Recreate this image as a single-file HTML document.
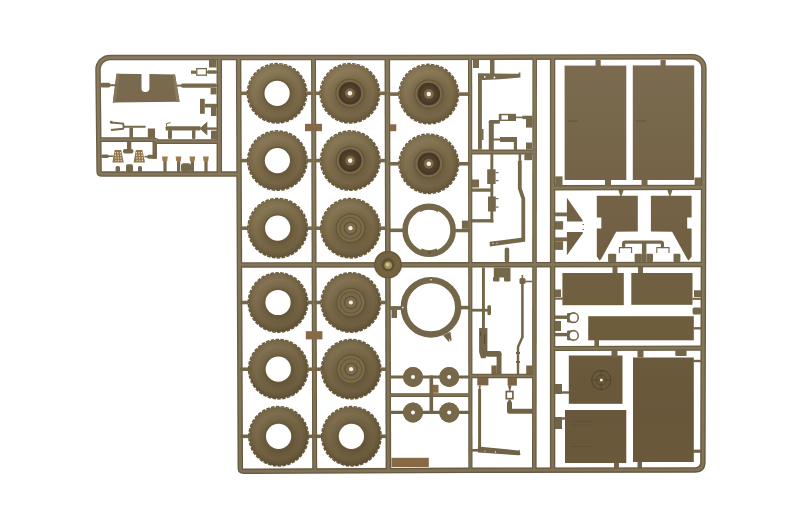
<!DOCTYPE html>
<html><head><meta charset="utf-8"><title>sprue</title>
<style>
html,body{margin:0;padding:0;background:#ffffff;}
body{width:800px;height:530px;overflow:hidden;font-family:"Liberation Sans",sans-serif;}
svg{display:block;}
</style></head><body>
<svg width="800" height="530" viewBox="0 0 800 530">
<rect width="800" height="530" fill="#ffffff"/>
<defs><filter id="soft" x="0" y="0" width="800" height="530" filterUnits="userSpaceOnUse"><feGaussianBlur stdDeviation="0.42"/></filter></defs>
<g filter="url(#soft)">
<defs>
<linearGradient id="rg" gradientUnits="userSpaceOnUse" x1="0" y1="55" x2="0" y2="473">
<stop offset="0" stop-color="#776a4d"/><stop offset="0.5" stop-color="#74674a"/><stop offset="1" stop-color="#706246"/>
</linearGradient>
<linearGradient id="rd" gradientUnits="userSpaceOnUse" x1="0" y1="55" x2="0" y2="473">
<stop offset="0" stop-color="#6d6045"/><stop offset="1" stop-color="#665a3f"/>
</linearGradient>
<linearGradient id="rh" gradientUnits="userSpaceOnUse" x1="0" y1="55" x2="0" y2="473">
<stop offset="0" stop-color="#87795c"/><stop offset="1" stop-color="#807256"/>
</linearGradient>
<linearGradient id="pg" gradientUnits="userSpaceOnUse" x1="0" y1="60" x2="0" y2="470">
<stop offset="0" stop-color="#7b6b51"/><stop offset="0.3" stop-color="#746347"/><stop offset="0.56" stop-color="#705f3f"/><stop offset="0.86" stop-color="#69573a"/><stop offset="1" stop-color="#6c5a3b"/>
</linearGradient>
</defs>
<path d="M239 174 L102 174 Q99.1 174 99.1 171.2 L98.0 69.5 A12 12 0 0 1 110 57.5 L400 57.5 L692.4 56.7 A11.5 11.5 0 0 1 703.9 68.2 L702.9 462 Q702.9 469.9 695 469.9 L470 470.3 L243.5 471.3 Q240.35 471.3 240.3 468.3 L238.6 57.5" fill="none" stroke="url(#rd)" stroke-width="5.5" stroke-linejoin="round" />
<path d="M219.3 57.5 L219.3 174" fill="none" stroke="url(#rd)" stroke-width="5.5" stroke-linejoin="round" />
<path d="M98.4 139.6 L154 139.6 L158 141.6 L219.3 141.6" fill="none" stroke="url(#rd)" stroke-width="4.9" stroke-linejoin="round" />
<path d="M313.5 57.5 L314.7 470.5" fill="none" stroke="url(#rd)" stroke-width="5.0" stroke-linejoin="round" />
<path d="M387.3 57.5 L388.4 470.5" fill="none" stroke="url(#rd)" stroke-width="5.6" stroke-linejoin="round" />
<path d="M470.1 57.5 L470.4 470.5" fill="none" stroke="url(#rd)" stroke-width="4.2" stroke-linejoin="round" />
<path d="M534.7 57.5 L534.3 470.5" fill="none" stroke="url(#rd)" stroke-width="4.6" stroke-linejoin="round" />
<path d="M552.6 57.5 L552.6 470.5" fill="none" stroke="url(#rd)" stroke-width="5.4" stroke-linejoin="round" />
<path d="M239 264.9 L470 264.8 L703.5 264.4" fill="none" stroke="url(#rd)" stroke-width="5.5" stroke-linejoin="round" />
<path d="M470 152 L534 152" fill="none" stroke="url(#rd)" stroke-width="5" stroke-linejoin="round" />
<path d="M470 375.9 L534 375.9" fill="none" stroke="url(#rd)" stroke-width="4.5" stroke-linejoin="round" />
<path d="M388 395.1 L470 395.1" fill="none" stroke="url(#rd)" stroke-width="3.6" stroke-linejoin="round" />
<path d="M552.8 187.8 L704 187.4" fill="none" stroke="url(#rd)" stroke-width="5.4" stroke-linejoin="round" />
<path d="M552.8 348.5 L703 348.1" fill="none" stroke="url(#rd)" stroke-width="5.2" stroke-linejoin="round" />
<path d="M239 174 L102 174 Q99.1 174 99.1 171.2 L98.0 69.5 A12 12 0 0 1 110 57.5 L400 57.5 L692.4 56.7 A11.5 11.5 0 0 1 703.9 68.2 L702.9 462 Q702.9 469.9 695 469.9 L470 470.3 L243.5 471.3 Q240.35 471.3 240.3 468.3 L238.6 57.5" fill="none" stroke="url(#rh)" stroke-width="2.75" stroke-linejoin="round" />
<path d="M219.3 57.5 L219.3 174" fill="none" stroke="url(#rh)" stroke-width="2.75" stroke-linejoin="round" />
<path d="M98.4 139.6 L154 139.6 L158 141.6 L219.3 141.6" fill="none" stroke="url(#rh)" stroke-width="2.45" stroke-linejoin="round" />
<path d="M313.5 57.5 L314.7 470.5" fill="none" stroke="url(#rh)" stroke-width="2.50" stroke-linejoin="round" />
<path d="M387.3 57.5 L388.4 470.5" fill="none" stroke="url(#rh)" stroke-width="2.80" stroke-linejoin="round" />
<path d="M470.1 57.5 L470.4 470.5" fill="none" stroke="url(#rh)" stroke-width="2.10" stroke-linejoin="round" />
<path d="M534.7 57.5 L534.3 470.5" fill="none" stroke="url(#rh)" stroke-width="2.30" stroke-linejoin="round" />
<path d="M552.6 57.5 L552.6 470.5" fill="none" stroke="url(#rh)" stroke-width="2.70" stroke-linejoin="round" />
<path d="M239 264.9 L470 264.8 L703.5 264.4" fill="none" stroke="url(#rh)" stroke-width="2.75" stroke-linejoin="round" />
<path d="M470 152 L534 152" fill="none" stroke="url(#rh)" stroke-width="2.50" stroke-linejoin="round" />
<path d="M470 375.9 L534 375.9" fill="none" stroke="url(#rh)" stroke-width="2.25" stroke-linejoin="round" />
<path d="M388 395.1 L470 395.1" fill="none" stroke="url(#rh)" stroke-width="1.80" stroke-linejoin="round" />
<path d="M552.8 187.8 L704 187.4" fill="none" stroke="url(#rh)" stroke-width="2.70" stroke-linejoin="round" />
<path d="M552.8 348.5 L703 348.1" fill="none" stroke="url(#rh)" stroke-width="2.60" stroke-linejoin="round" />
<defs>
<linearGradient id="tl" x1="0.25" y1="0" x2="0.75" y2="1">
<stop offset="0" stop-color="#fff3d0" stop-opacity="0.13"/><stop offset="0.5" stop-color="#fff3d0" stop-opacity="0"/><stop offset="0.5" stop-color="#1a1000" stop-opacity="0"/><stop offset="1" stop-color="#1a1000" stop-opacity="0.13"/>
</linearGradient>
<radialGradient id="tg" cx="50%" cy="50%" r="50%">
<stop offset="0.40" stop-color="#62543a"/>
<stop offset="0.48" stop-color="#716040"/>
<stop offset="0.60" stop-color="#7a6949"/>
<stop offset="0.78" stop-color="#806f4e"/>
<stop offset="0.92" stop-color="#766545"/>
<stop offset="1" stop-color="#68593c"/>
</radialGradient>
</defs>
<line x1="240.00" y1="93.30" x2="247.70" y2="93.30" stroke="url(#rg)" stroke-width="3.6" stroke-linecap="butt"/>
<line x1="306.50" y1="93.30" x2="313.00" y2="93.30" stroke="url(#rg)" stroke-width="3.6" stroke-linecap="butt"/>
<circle cx="277.1013119533528" cy="93.3" r="29.75" fill="none" stroke="#6c5d3f" stroke-width="1.5" stroke-dasharray="3.5 1.4"/>
<circle cx="277.10" cy="93.30" r="29.40" fill="url(#tg)" />
<circle cx="277.10" cy="93.30" r="29.40" fill="url(#tl)" />
<circle cx="277.10" cy="93.30" r="14.00" fill="#6a5a3c" />
<circle cx="277.10" cy="93.30" r="12.60" fill="#ffffff" />
<line x1="240.00" y1="160.60" x2="248.00" y2="160.60" stroke="url(#rg)" stroke-width="3.6" stroke-linecap="butt"/>
<line x1="306.80" y1="160.60" x2="313.00" y2="160.60" stroke="url(#rg)" stroke-width="3.6" stroke-linecap="butt"/>
<circle cx="277.39562682215745" cy="160.6" r="29.75" fill="none" stroke="#6c5d3f" stroke-width="1.5" stroke-dasharray="3.5 1.4"/>
<circle cx="277.40" cy="160.60" r="29.40" fill="url(#tg)" />
<circle cx="277.40" cy="160.60" r="29.40" fill="url(#tl)" />
<circle cx="277.40" cy="160.60" r="29.80" fill="#2a1e08" opacity="0.026"/>
<circle cx="277.40" cy="160.60" r="14.00" fill="#6a5a3c" />
<circle cx="277.40" cy="160.60" r="12.60" fill="#ffffff" />
<line x1="240.00" y1="228.20" x2="248.29" y2="228.20" stroke="url(#rg)" stroke-width="3.6" stroke-linecap="butt"/>
<line x1="307.09" y1="228.20" x2="313.00" y2="228.20" stroke="url(#rg)" stroke-width="3.6" stroke-linecap="butt"/>
<circle cx="277.6912536443149" cy="228.2" r="29.75" fill="none" stroke="#6c5d3f" stroke-width="1.5" stroke-dasharray="3.5 1.4"/>
<circle cx="277.69" cy="228.20" r="29.40" fill="url(#tg)" />
<circle cx="277.69" cy="228.20" r="29.40" fill="url(#tl)" />
<circle cx="277.69" cy="228.20" r="29.80" fill="#2a1e08" opacity="0.051"/>
<circle cx="277.69" cy="228.20" r="14.00" fill="#6a5a3c" />
<circle cx="277.69" cy="228.20" r="12.60" fill="#ffffff" />
<line x1="240.00" y1="302.50" x2="248.62" y2="302.50" stroke="url(#rg)" stroke-width="3.6" stroke-linecap="butt"/>
<line x1="307.42" y1="302.50" x2="313.00" y2="302.50" stroke="url(#rg)" stroke-width="3.6" stroke-linecap="butt"/>
<circle cx="278.0161807580175" cy="302.5" r="29.75" fill="none" stroke="#6c5d3f" stroke-width="1.5" stroke-dasharray="3.5 1.4"/>
<circle cx="278.02" cy="302.50" r="29.40" fill="url(#tg)" />
<circle cx="278.02" cy="302.50" r="29.40" fill="url(#tl)" />
<circle cx="278.02" cy="302.50" r="29.80" fill="#2a1e08" opacity="0.079"/>
<circle cx="278.02" cy="302.50" r="14.00" fill="#6a5a3c" />
<circle cx="278.02" cy="302.50" r="12.60" fill="#ffffff" />
<line x1="240.00" y1="369.20" x2="248.91" y2="369.20" stroke="url(#rg)" stroke-width="3.6" stroke-linecap="butt"/>
<line x1="307.71" y1="369.20" x2="313.00" y2="369.20" stroke="url(#rg)" stroke-width="3.6" stroke-linecap="butt"/>
<circle cx="278.3078717201166" cy="369.2" r="29.75" fill="none" stroke="#6c5d3f" stroke-width="1.5" stroke-dasharray="3.5 1.4"/>
<circle cx="278.31" cy="369.20" r="29.40" fill="url(#tg)" />
<circle cx="278.31" cy="369.20" r="29.40" fill="url(#tl)" />
<circle cx="278.31" cy="369.20" r="29.80" fill="#2a1e08" opacity="0.105"/>
<circle cx="278.31" cy="369.20" r="14.00" fill="#6a5a3c" />
<circle cx="278.31" cy="369.20" r="12.60" fill="#ffffff" />
<line x1="240.00" y1="436.30" x2="249.20" y2="436.30" stroke="url(#rg)" stroke-width="3.6" stroke-linecap="butt"/>
<line x1="308.00" y1="436.30" x2="313.00" y2="436.30" stroke="url(#rg)" stroke-width="3.6" stroke-linecap="butt"/>
<circle cx="278.6013119533528" cy="436.3" r="29.75" fill="none" stroke="#6c5d3f" stroke-width="1.5" stroke-dasharray="3.5 1.4"/>
<circle cx="278.60" cy="436.30" r="29.40" fill="url(#tg)" />
<circle cx="278.60" cy="436.30" r="29.40" fill="url(#tl)" />
<circle cx="278.60" cy="436.30" r="29.80" fill="#2a1e08" opacity="0.130"/>
<circle cx="278.60" cy="436.30" r="14.00" fill="#6a5a3c" />
<circle cx="278.60" cy="436.30" r="12.60" fill="#ffffff" />
<line x1="314.00" y1="93.30" x2="320.50" y2="93.30" stroke="url(#rg)" stroke-width="3.6" stroke-linecap="butt"/>
<line x1="379.30" y1="93.30" x2="387.00" y2="93.30" stroke="url(#rg)" stroke-width="3.6" stroke-linecap="butt"/>
<circle cx="349.9013119533528" cy="93.3" r="29.75" fill="none" stroke="#6c5d3f" stroke-width="1.5" stroke-dasharray="3.5 1.4"/>
<circle cx="349.90" cy="93.30" r="29.40" fill="url(#tg)" />
<circle cx="349.90" cy="93.30" r="29.40" fill="url(#tl)" />
<circle cx="349.90" cy="93.30" r="14.60" fill="#655639" />
<circle cx="349.90" cy="93.30" r="13.50" fill="#7a6946" />
<circle cx="349.90" cy="93.30" r="11.30" fill="#47372a" />
<circle cx="349.90" cy="93.30" r="8.60" fill="#523f2b" />
<circle cx="349.90" cy="93.30" r="5.00" fill="#7a6747" />
<circle cx="349.90" cy="93.30" r="2.30" fill="#f4f0e8" />
<line x1="314.00" y1="160.60" x2="320.80" y2="160.60" stroke="url(#rg)" stroke-width="3.6" stroke-linecap="butt"/>
<line x1="379.60" y1="160.60" x2="387.00" y2="160.60" stroke="url(#rg)" stroke-width="3.6" stroke-linecap="butt"/>
<circle cx="350.1956268221574" cy="160.6" r="29.75" fill="none" stroke="#6c5d3f" stroke-width="1.5" stroke-dasharray="3.5 1.4"/>
<circle cx="350.20" cy="160.60" r="29.40" fill="url(#tg)" />
<circle cx="350.20" cy="160.60" r="29.40" fill="url(#tl)" />
<circle cx="350.20" cy="160.60" r="29.80" fill="#2a1e08" opacity="0.026"/>
<circle cx="350.20" cy="160.60" r="14.60" fill="#655639" />
<circle cx="350.20" cy="160.60" r="13.50" fill="#7a6946" />
<circle cx="350.20" cy="160.60" r="11.30" fill="#47372a" />
<circle cx="350.20" cy="160.60" r="8.60" fill="#523f2b" />
<circle cx="350.20" cy="160.60" r="5.00" fill="#7a6747" />
<circle cx="350.20" cy="160.60" r="2.30" fill="#f4f0e8" />
<line x1="314.00" y1="228.20" x2="321.09" y2="228.20" stroke="url(#rg)" stroke-width="3.6" stroke-linecap="butt"/>
<line x1="379.89" y1="228.20" x2="387.00" y2="228.20" stroke="url(#rg)" stroke-width="3.6" stroke-linecap="butt"/>
<circle cx="350.49125364431484" cy="228.2" r="29.75" fill="none" stroke="#6c5d3f" stroke-width="1.5" stroke-dasharray="3.5 1.4"/>
<circle cx="350.49" cy="228.20" r="29.40" fill="url(#tg)" />
<circle cx="350.49" cy="228.20" r="29.40" fill="url(#tl)" />
<circle cx="350.49" cy="228.20" r="29.80" fill="#2a1e08" opacity="0.051"/>
<circle cx="350.49" cy="228.20" r="14.60" fill="#655639" />
<circle cx="350.49" cy="228.20" r="13.50" fill="#7d6c49" />
<circle cx="350.49" cy="228.20" r="11.30" fill="#67583b" />
<circle cx="350.49" cy="228.20" r="10.20" fill="#7a6946" />
<circle cx="350.49" cy="228.20" r="6.80" fill="#625337" />
<circle cx="350.49" cy="228.20" r="5.40" fill="#7e6d4b" />
<circle cx="350.49" cy="228.20" r="2.10" fill="#f4f0e8" />
<line x1="314.00" y1="302.50" x2="321.42" y2="302.50" stroke="url(#rg)" stroke-width="3.6" stroke-linecap="butt"/>
<line x1="380.22" y1="302.50" x2="387.00" y2="302.50" stroke="url(#rg)" stroke-width="3.6" stroke-linecap="butt"/>
<circle cx="350.8161807580175" cy="302.5" r="29.75" fill="none" stroke="#6c5d3f" stroke-width="1.5" stroke-dasharray="3.5 1.4"/>
<circle cx="350.82" cy="302.50" r="29.40" fill="url(#tg)" />
<circle cx="350.82" cy="302.50" r="29.40" fill="url(#tl)" />
<circle cx="350.82" cy="302.50" r="29.80" fill="#2a1e08" opacity="0.079"/>
<circle cx="350.82" cy="302.50" r="14.60" fill="#655639" />
<circle cx="350.82" cy="302.50" r="13.50" fill="#7d6c49" />
<circle cx="350.82" cy="302.50" r="11.30" fill="#67583b" />
<circle cx="350.82" cy="302.50" r="10.20" fill="#7a6946" />
<circle cx="350.82" cy="302.50" r="6.80" fill="#625337" />
<circle cx="350.82" cy="302.50" r="5.40" fill="#7e6d4b" />
<circle cx="350.82" cy="302.50" r="2.10" fill="#f4f0e8" />
<line x1="314.00" y1="369.20" x2="321.71" y2="369.20" stroke="url(#rg)" stroke-width="3.6" stroke-linecap="butt"/>
<line x1="380.51" y1="369.20" x2="387.00" y2="369.20" stroke="url(#rg)" stroke-width="3.6" stroke-linecap="butt"/>
<circle cx="351.1078717201166" cy="369.2" r="29.75" fill="none" stroke="#6c5d3f" stroke-width="1.5" stroke-dasharray="3.5 1.4"/>
<circle cx="351.11" cy="369.20" r="29.40" fill="url(#tg)" />
<circle cx="351.11" cy="369.20" r="29.40" fill="url(#tl)" />
<circle cx="351.11" cy="369.20" r="29.80" fill="#2a1e08" opacity="0.105"/>
<circle cx="351.11" cy="369.20" r="14.60" fill="#655639" />
<circle cx="351.11" cy="369.20" r="13.50" fill="#7d6c49" />
<circle cx="351.11" cy="369.20" r="11.30" fill="#67583b" />
<circle cx="351.11" cy="369.20" r="10.20" fill="#7a6946" />
<circle cx="351.11" cy="369.20" r="6.80" fill="#625337" />
<circle cx="351.11" cy="369.20" r="5.40" fill="#7e6d4b" />
<circle cx="351.11" cy="369.20" r="2.10" fill="#f4f0e8" />
<line x1="314.00" y1="436.30" x2="322.00" y2="436.30" stroke="url(#rg)" stroke-width="3.6" stroke-linecap="butt"/>
<line x1="380.80" y1="436.30" x2="387.00" y2="436.30" stroke="url(#rg)" stroke-width="3.6" stroke-linecap="butt"/>
<circle cx="351.4013119533528" cy="436.3" r="29.75" fill="none" stroke="#6c5d3f" stroke-width="1.5" stroke-dasharray="3.5 1.4"/>
<circle cx="351.40" cy="436.30" r="29.40" fill="url(#tg)" />
<circle cx="351.40" cy="436.30" r="29.40" fill="url(#tl)" />
<circle cx="351.40" cy="436.30" r="29.80" fill="#2a1e08" opacity="0.130"/>
<circle cx="351.40" cy="436.30" r="14.00" fill="#6a5a3c" />
<circle cx="351.40" cy="436.30" r="12.60" fill="#ffffff" />
<line x1="388.00" y1="94.10" x2="399.40" y2="94.10" stroke="url(#rg)" stroke-width="3.6" stroke-linecap="butt"/>
<line x1="458.20" y1="94.10" x2="470.00" y2="94.10" stroke="url(#rg)" stroke-width="3.6" stroke-linecap="butt"/>
<circle cx="428.8" cy="94.1" r="29.75" fill="none" stroke="#6c5d3f" stroke-width="1.5" stroke-dasharray="3.5 1.4"/>
<circle cx="428.80" cy="94.10" r="29.40" fill="url(#tg)" />
<circle cx="428.80" cy="94.10" r="29.40" fill="url(#tl)" />
<circle cx="428.80" cy="94.10" r="14.60" fill="#655639" />
<circle cx="428.80" cy="94.10" r="13.50" fill="#7a6946" />
<circle cx="428.80" cy="94.10" r="11.30" fill="#47372a" />
<circle cx="428.80" cy="94.10" r="8.60" fill="#523f2b" />
<circle cx="428.80" cy="94.10" r="5.00" fill="#7a6747" />
<circle cx="428.80" cy="94.10" r="2.30" fill="#f4f0e8" />
<line x1="388.00" y1="163.80" x2="399.40" y2="163.80" stroke="url(#rg)" stroke-width="3.6" stroke-linecap="butt"/>
<line x1="458.20" y1="163.80" x2="470.00" y2="163.80" stroke="url(#rg)" stroke-width="3.6" stroke-linecap="butt"/>
<circle cx="428.8" cy="163.8" r="29.75" fill="none" stroke="#6c5d3f" stroke-width="1.5" stroke-dasharray="3.5 1.4"/>
<circle cx="428.80" cy="163.80" r="29.40" fill="url(#tg)" />
<circle cx="428.80" cy="163.80" r="29.40" fill="url(#tl)" />
<circle cx="428.80" cy="163.80" r="29.80" fill="#2a1e08" opacity="0.027"/>
<circle cx="428.80" cy="163.80" r="14.60" fill="#655639" />
<circle cx="428.80" cy="163.80" r="13.50" fill="#7a6946" />
<circle cx="428.80" cy="163.80" r="11.30" fill="#47372a" />
<circle cx="428.80" cy="163.80" r="8.60" fill="#523f2b" />
<circle cx="428.80" cy="163.80" r="5.00" fill="#7a6747" />
<circle cx="428.80" cy="163.80" r="2.30" fill="#f4f0e8" />
<rect x="305.00" y="123.80" width="17.00" height="7.40" fill="#876a45"/>
<rect x="305.80" y="331.20" width="16.60" height="8.20" fill="#876a45"/>
<rect x="390.00" y="124.30" width="6.30" height="6.90" fill="#876a45"/>
<line x1="390.00" y1="230.30" x2="403.00" y2="230.30" stroke="url(#rg)" stroke-width="3.6" stroke-linecap="butt"/>
<line x1="455.00" y1="230.60" x2="470.00" y2="230.60" stroke="url(#rg)" stroke-width="3.4" stroke-linecap="butt"/>
<rect x="461.90" y="220.60" width="6.40" height="8.20" fill="url(#rg)"/>
<circle cx="429.1" cy="230.2" r="24" fill="none" stroke="url(#rg)" stroke-width="5.6"/>
<path d="M419.5 210.6 A21.6 21.6 0 0 1 438.6 210.6" fill="none" stroke="url(#rg)" stroke-width="3.2"/>
<path d="M421 250.2 A21.6 21.6 0 0 0 437.2 250.2" fill="none" stroke="url(#rg)" stroke-width="3.4"/>
<circle cx="429.40" cy="252.40" r="1.30" fill="#5f5136" />
<line x1="390.00" y1="308.00" x2="401.00" y2="308.00" stroke="url(#rg)" stroke-width="3.8" stroke-linecap="butt"/>
<line x1="461.00" y1="307.60" x2="470.00" y2="307.60" stroke="url(#rg)" stroke-width="3.6" stroke-linecap="butt"/>
<rect x="391.50" y="309.50" width="5.50" height="8.50" fill="url(#rg)"/>
<circle cx="431" cy="307.3" r="27.2" fill="none" stroke="url(#rg)" stroke-width="6.4"/>
<polygon points="443.10,335.30 450.30,331.70 451.70,340.30 448.60,341.70" fill="url(#rg)" />
<circle cx="449.60" cy="340.00" r="0.70" fill="#fff" />
<circle cx="431.00" cy="279.80" r="0.80" fill="#fff" />
<circle cx="402.90" cy="307.60" r="0.80" fill="#fff" />
<circle cx="388.00" cy="264.70" r="13.90" fill="#69593c" />
<circle cx="388.00" cy="264.70" r="12.40" fill="#73633f" />
<circle cx="388.00" cy="264.70" r="6.60" fill="#5f5035" />
<circle cx="388.20" cy="265.20" r="3.80" fill="#a8935c" />
<circle cx="387.60" cy="264.60" r="1.80" fill="#d6c48e" />
<circle cx="413.00" cy="377.00" r="9.95" fill="#77684a" />
<circle cx="413.00" cy="377.00" r="2.00" fill="#ffffff" />
<circle cx="449.20" cy="377.00" r="9.95" fill="#77684a" />
<circle cx="449.20" cy="377.00" r="2.00" fill="#ffffff" />
<circle cx="413.00" cy="412.50" r="9.95" fill="#77684a" />
<circle cx="413.00" cy="412.50" r="2.00" fill="#ffffff" />
<circle cx="449.20" cy="412.50" r="9.95" fill="#77684a" />
<circle cx="449.20" cy="412.50" r="2.00" fill="#ffffff" />
<line x1="390.00" y1="377.00" x2="470.00" y2="377.00" stroke="url(#rg)" stroke-width="3.2" stroke-linecap="butt"/>
<line x1="390.00" y1="412.40" x2="470.00" y2="412.40" stroke="url(#rg)" stroke-width="3.2" stroke-linecap="butt"/>
<circle cx="413.00" cy="377.00" r="9.95" fill="#77684a" />
<circle cx="413.00" cy="377.00" r="2.00" fill="#ffffff" />
<circle cx="449.20" cy="377.00" r="9.95" fill="#77684a" />
<circle cx="449.20" cy="377.00" r="2.00" fill="#ffffff" />
<circle cx="413.00" cy="412.50" r="9.95" fill="#77684a" />
<circle cx="413.00" cy="412.50" r="2.00" fill="#ffffff" />
<circle cx="449.20" cy="412.50" r="9.95" fill="#77684a" />
<circle cx="449.20" cy="412.50" r="2.00" fill="#ffffff" />
<rect x="429.50" y="375.50" width="3.60" height="38.00" fill="url(#rg)"/>
<rect x="432.80" y="384.80" width="5.70" height="8.00" fill="#876a45"/>
<rect x="391.50" y="457.80" width="37.30" height="9.20" fill="#876a45"/>
<rect x="564.60" y="65.60" width="61.70" height="114.40" fill="url(#pg)"/>
<rect x="632.80" y="65.40" width="61.40" height="114.60" fill="url(#pg)"/>
<rect x="595.50" y="60.00" width="5.20" height="6.00" fill="url(#rg)"/>
<rect x="660.50" y="60.00" width="5.20" height="6.00" fill="url(#rg)"/>
<rect x="605.00" y="180.00" width="6.00" height="6.00" fill="url(#rg)"/>
<rect x="641.50" y="180.00" width="6.00" height="6.00" fill="url(#rg)"/>
<rect x="555.20" y="176.40" width="7.30" height="9.60" fill="url(#rg)"/>
<rect x="694.60" y="177.50" width="6.40" height="8.50" fill="url(#rg)"/>
<polygon points="596.80,195.70 637.80,195.70 637.80,231.50 616.20,231.80 601.00,259.30 599.60,260.50 596.80,256.50 596.80,228.40 601.30,228.40 601.30,217.40 596.80,217.40" fill="url(#pg)" />
<polygon points="650.90,195.70 691.60,195.70 691.60,217.40 687.20,217.40 687.20,228.40 691.60,228.40 691.60,256.50 688.80,260.50 687.40,259.30 672.10,231.80 650.90,231.50" fill="url(#pg)" />
<polygon points="618.30,190.00 623.60,190.00 621.60,196.00 620.30,196.00" fill="url(#rg)" />
<polygon points="667.40,190.00 672.40,190.00 670.50,196.00 669.30,196.00" fill="url(#rg)" />
<polygon points="566.90,197.80 566.90,221.60 582.80,221.60 582.80,220.40" fill="url(#pg)" />
<polygon points="566.90,232.00 582.80,232.00 582.80,233.20 566.90,255.20" fill="url(#pg)" />
<line x1="555.00" y1="214.40" x2="567.50" y2="214.40" stroke="url(#rg)" stroke-width="3.8" stroke-linecap="butt"/>
<line x1="555.00" y1="239.30" x2="567.50" y2="239.30" stroke="url(#rg)" stroke-width="3.8" stroke-linecap="butt"/>
<rect x="555.00" y="221.20" width="8.10" height="8.40" fill="url(#rg)"/>
<rect x="555.00" y="241.20" width="8.10" height="8.70" fill="url(#rg)"/>
<rect x="582.60" y="224.00" width="1.40" height="1.00" fill="url(#rg)"/>
<rect x="582.60" y="229.00" width="1.40" height="1.00" fill="url(#rg)"/>
<path d="M623.6 246.6 L623.6 243.6 Q623.6 242.1 625.2 242.1 L660.8 242.1 Q662.4 242.1 662.4 243.6 L662.4 246.6" fill="none" stroke="url(#rg)" stroke-width="3.2" stroke-linecap="round"/>
<rect x="641.90" y="243.00" width="4.50" height="19.00" fill="url(#rg)"/>
<path d="M619.4 253 L619.4 247.6 L631.6 247.6 L631.6 253 M656.8 253 L656.8 247.6 L669 247.6 L669 253" fill="none" stroke="url(#rg)" stroke-width="1.1"/>
<rect x="608.10" y="253.80" width="8.10" height="8.20" fill="url(#rg)" rx="1"/>
<rect x="634.60" y="253.80" width="7.30" height="8.20" fill="url(#rg)" rx="1"/>
<rect x="646.40" y="253.80" width="6.60" height="8.20" fill="url(#rg)" rx="1"/>
<rect x="673.50" y="253.80" width="6.90" height="8.20" fill="url(#rg)" rx="1"/>
<rect x="562.40" y="273.00" width="61.40" height="32.20" fill="url(#pg)"/>
<rect x="631.30" y="273.00" width="61.20" height="31.80" fill="url(#pg)"/>
<rect x="588.20" y="316.20" width="105.60" height="24.10" fill="url(#pg)"/>
<rect x="568.80" y="355.50" width="53.70" height="48.30" fill="url(#pg)"/>
<rect x="565.00" y="410.00" width="61.30" height="53.00" fill="url(#pg)"/>
<rect x="633.00" y="357.50" width="60.80" height="104.50" fill="url(#pg)"/>
<rect x="612.50" y="267.00" width="5.00" height="6.00" fill="url(#rg)"/>
<rect x="638.00" y="267.00" width="5.00" height="6.00" fill="url(#rg)"/>
<rect x="611.50" y="350.00" width="6.00" height="7.50" fill="url(#rg)"/>
<rect x="637.50" y="350.00" width="6.00" height="7.50" fill="url(#rg)"/>
<rect x="675.30" y="349.00" width="11.30" height="6.90" fill="url(#rg)" rx="1"/>
<rect x="555.00" y="289.50" width="6.00" height="7.50" fill="url(#rg)"/>
<line x1="555.00" y1="298.60" x2="563.00" y2="298.60" stroke="url(#rg)" stroke-width="2.2" stroke-linecap="butt"/>
<rect x="694.00" y="290.30" width="7.00" height="6.70" fill="url(#rg)"/>
<line x1="692.30" y1="298.80" x2="701.00" y2="298.80" stroke="url(#rg)" stroke-width="2.2" stroke-linecap="butt"/>
<rect x="692.60" y="307.60" width="8.40" height="6.80" fill="url(#rg)" rx="1.5"/>
<line x1="693.50" y1="328.30" x2="701.00" y2="328.30" stroke="url(#rg)" stroke-width="2.4" stroke-linecap="butt"/>
<rect x="555.00" y="321.00" width="6.00" height="10.00" fill="url(#rg)"/>
<line x1="555.00" y1="317.20" x2="568.00" y2="317.20" stroke="url(#rg)" stroke-width="3.4" stroke-linecap="butt"/>
<line x1="555.00" y1="334.60" x2="568.00" y2="334.60" stroke="url(#rg)" stroke-width="3.4" stroke-linecap="butt"/>
<rect x="567.00" y="312.90" width="6.00" height="9.60" fill="url(#rg)" rx="1"/>
<circle cx="573.40" cy="317.70" r="5.60" fill="url(#rg)" />
<circle cx="573.60" cy="317.70" r="3.90" fill="#fff" />
<rect x="567.00" y="330.60" width="6.00" height="9.60" fill="url(#rg)" rx="1"/>
<circle cx="573.40" cy="335.40" r="5.60" fill="url(#rg)" />
<circle cx="573.60" cy="335.40" r="3.90" fill="#fff" />
<rect x="594.40" y="340.00" width="4.60" height="7.00" fill="url(#rg)"/>
<rect x="555.00" y="384.00" width="7.00" height="10.00" fill="url(#rg)"/>
<line x1="561.00" y1="392.50" x2="569.00" y2="392.50" stroke="url(#rg)" stroke-width="2.4" stroke-linecap="butt"/>
<rect x="555.00" y="417.00" width="7.00" height="12.00" fill="url(#rg)"/>
<line x1="561.00" y1="418.50" x2="566.00" y2="418.50" stroke="url(#rg)" stroke-width="2.4" stroke-linecap="butt"/>
<rect x="614.00" y="463.00" width="5.00" height="5.00" fill="url(#rg)"/>
<rect x="637.50" y="462.00" width="4.50" height="6.00" fill="url(#rg)"/>
<line x1="693.00" y1="361.00" x2="702.00" y2="361.00" stroke="url(#rg)" stroke-width="2.4" stroke-linecap="butt"/>
<line x1="693.00" y1="451.20" x2="702.00" y2="451.20" stroke="url(#rg)" stroke-width="3.2" stroke-linecap="butt"/>
<line x1="571.00" y1="421.50" x2="592.00" y2="421.50" stroke="#5f4f33" stroke-width="0.8" stroke-linecap="butt"/>
<line x1="571.00" y1="425.00" x2="592.00" y2="425.00" stroke="#5f4f33" stroke-width="0.8" stroke-linecap="butt"/>
<line x1="571.00" y1="446.50" x2="592.00" y2="446.50" stroke="#5f4f33" stroke-width="0.8" stroke-linecap="butt"/>
<line x1="568.00" y1="121.00" x2="578.00" y2="121.00" stroke="#5f4f33" stroke-width="0.8" stroke-linecap="butt"/>
<line x1="636.00" y1="121.00" x2="646.00" y2="121.00" stroke="#5f4f33" stroke-width="0.8" stroke-linecap="butt"/>
<circle cx="601.3" cy="380" r="9.6" fill="none" stroke="#544429" stroke-width="1.1"/>
<circle cx="601.3" cy="380" r="5.2" fill="none" stroke="#544429" stroke-width="0.9"/>
<line x1="591.70" y1="380.00" x2="610.90" y2="380.00" stroke="#544429" stroke-width="0.9" stroke-linecap="butt"/>
<line x1="601.30" y1="370.40" x2="601.30" y2="389.60" stroke="#544429" stroke-width="0.9" stroke-linecap="butt"/>
<circle cx="601.30" cy="380.00" r="1.50" fill="#f2eee4" />
<rect x="478.00" y="74.00" width="3.90" height="75.50" fill="url(#rg)"/>
<polygon points="478.00,73.30 518.60,73.80 518.60,72.60 520.40,72.60 520.40,77.40 500.00,79.20 478.00,80.30" fill="url(#rg)" />
<rect x="490.00" y="60.00" width="4.50" height="15.00" fill="url(#rg)"/>
<circle cx="484.80" cy="76.80" r="0.90" fill="#fff" />
<circle cx="494.40" cy="77.40" r="0.90" fill="#fff" />
<rect x="473.00" y="60.00" width="6.00" height="8.00" fill="url(#rg)"/>
<rect x="488.80" y="121.00" width="5.00" height="29.00" fill="url(#rg)"/>
<rect x="488.80" y="120.00" width="11.20" height="3.80" fill="url(#rg)" rx="1.5"/>
<rect x="498.80" y="113.80" width="17.20" height="7.20" fill="url(#rg)"/>
<rect x="501.50" y="115.30" width="6.50" height="4.30" fill="#fff"/>
<line x1="514.00" y1="117.40" x2="524.00" y2="117.40" stroke="url(#rg)" stroke-width="1.6" stroke-linecap="butt"/>
<line x1="522.50" y1="117.40" x2="532.50" y2="117.40" stroke="url(#rg)" stroke-width="3.4" stroke-linecap="butt"/>
<rect x="526.00" y="119.00" width="6.60" height="8.60" fill="url(#rg)"/>
<rect x="500.00" y="137.00" width="17.00" height="5.00" fill="url(#rg)"/>
<line x1="493.00" y1="139.50" x2="500.00" y2="139.50" stroke="url(#rg)" stroke-width="2" stroke-linecap="butt"/>
<rect x="513.80" y="142.00" width="3.20" height="8.00" fill="url(#rg)"/>
<rect x="526.00" y="142.50" width="6.00" height="7.00" fill="url(#rg)"/>
<rect x="481.50" y="129.00" width="2.00" height="11.00" fill="url(#rg)"/>
<rect x="490.40" y="154.00" width="2.90" height="68.40" fill="url(#rg)"/>
<rect x="487.20" y="169.30" width="8.40" height="14.70" fill="url(#rg)"/>
<rect x="488.00" y="196.50" width="7.80" height="15.00" fill="url(#rg)"/>
<rect x="495.60" y="172.00" width="2.90" height="1.20" fill="url(#rg)"/>
<rect x="495.60" y="180.00" width="2.90" height="1.20" fill="url(#rg)"/>
<rect x="495.60" y="198.00" width="2.90" height="1.20" fill="url(#rg)"/>
<rect x="495.60" y="206.50" width="2.90" height="1.20" fill="url(#rg)"/>
<rect x="472.00" y="179.50" width="7.00" height="8.00" fill="url(#rg)"/>
<line x1="472.00" y1="190.10" x2="492.50" y2="190.10" stroke="url(#rg)" stroke-width="3.3" stroke-linecap="butt"/>
<line x1="472.00" y1="220.80" x2="493.30" y2="220.80" stroke="url(#rg)" stroke-width="3.3" stroke-linecap="butt"/>
<rect x="518.60" y="154.00" width="2.60" height="8.00" fill="url(#rg)"/>
<path d="M519.8 161 L519.8 188.5 L523.3 198.7 L523.3 241" fill="none" stroke="url(#rg)" stroke-width="3.8"/>
<polygon points="489.50,241.80 525.00,237.30 525.00,241.80 490.00,246.40" fill="url(#rg)" />
<rect x="524.40" y="153.40" width="6.30" height="6.80" fill="url(#rg)"/>
<circle cx="493.00" cy="243.30" r="0.60" fill="#fff" />
<circle cx="497.00" cy="243.00" r="0.60" fill="#fff" />
<rect x="504.70" y="247.50" width="4.50" height="15.00" fill="url(#rg)" rx="2"/>
<rect x="526.00" y="154.00" width="6.00" height="6.00" fill="url(#rg)"/>
<rect x="493.80" y="267.50" width="16.70" height="10.00" fill="url(#rg)"/>
<rect x="493.00" y="277.00" width="6.50" height="4.50" fill="url(#rg)" rx="1"/>
<rect x="504.00" y="277.00" width="6.50" height="4.50" fill="url(#rg)" rx="1"/>
<rect x="482.00" y="267.50" width="2.90" height="61.00" fill="url(#rg)"/>
<polygon points="479.10,328.00 487.40,328.00 487.40,352.00 485.50,358.30 481.00,358.30 479.10,352.00" fill="url(#rg)" />
<rect x="480.00" y="331.50" width="1.20" height="4.50" fill="#5d4e33"/>
<rect x="484.00" y="334.00" width="1.20" height="10.00" fill="#5d4e33"/>
<rect x="487.40" y="305.20" width="3.60" height="10.00" fill="url(#rg)" rx="1.4"/>
<line x1="472.00" y1="310.20" x2="488.00" y2="310.20" stroke="url(#rg)" stroke-width="2.8" stroke-linecap="butt"/>
<rect x="485.00" y="351.10" width="16.50" height="5.60" fill="url(#rg)" rx="2.4"/>
<rect x="496.60" y="353.00" width="4.90" height="22.00" fill="url(#rg)" rx="1.5"/>
<rect x="491.40" y="365.50" width="5.40" height="8.50" fill="#7b6445"/>
<line x1="522.40" y1="280.00" x2="522.40" y2="338.00" stroke="url(#rg)" stroke-width="2.6" stroke-linecap="butt"/>
<path d="M522.4 337 L518 347 L518 374" fill="none" stroke="url(#rg)" stroke-width="2.4"/>
<rect x="519.50" y="278.00" width="6.00" height="6.00" fill="url(#rg)" rx="1.5"/>
<line x1="522.40" y1="275.00" x2="522.40" y2="279.00" stroke="url(#rg)" stroke-width="1.5" stroke-linecap="butt"/>
<line x1="524.00" y1="281.50" x2="532.00" y2="281.50" stroke="url(#rg)" stroke-width="1.6" stroke-linecap="butt"/>
<rect x="526.20" y="365.50" width="5.80" height="8.50" fill="#7b6445"/>
<rect x="516.00" y="352.00" width="4.00" height="2.00" fill="url(#rg)"/>
<rect x="516.00" y="361.00" width="4.00" height="2.00" fill="url(#rg)"/>
<rect x="477.30" y="378.00" width="11.10" height="7.40" fill="#7b6445"/>
<polygon points="478.60,385.40 481.00,385.40 480.20,389.50 479.20,389.50" fill="url(#rg)" />
<rect x="478.10" y="388.80" width="3.00" height="63.20" fill="url(#rg)"/>
<polygon points="477.90,446.40 518.50,450.40 519.60,449.60 520.40,455.00 518.50,455.20 477.90,452.60" fill="url(#rg)" />
<circle cx="485.00" cy="451.00" r="0.60" fill="#fff" />
<circle cx="495.40" cy="451.90" r="0.60" fill="#fff" />
<line x1="472.00" y1="450.30" x2="478.50" y2="450.30" stroke="url(#rg)" stroke-width="2.6" stroke-linecap="butt"/>
<rect x="507.60" y="378.00" width="9.30" height="7.60" fill="#7b6445"/>
<polygon points="508.00,385.60 511.50,385.60 510.30,391.00 509.30,391.00" fill="url(#rg)" />
<rect x="506.3" y="391.5" width="6.6" height="7.2" fill="#fff" stroke="url(#rg)" stroke-width="1.7"/>
<polygon points="509.00,399.50 510.40,399.50 512.10,403.00 507.00,403.00" fill="url(#rg)" />
<path d="M509.5 402.5 L509.5 411.3 L533 411.3" fill="none" stroke="url(#rg)" stroke-width="5" stroke-linejoin="round"/>
<path d="M116.5 73.8 L141.5 73.9 L141.5 88.2 Q141.5 92 145.4 92 Q149.4 92 149.4 88.2 L149.4 74 L175 74.4 L179.6 101.8 L112.8 102.4 Z" fill="url(#pg)"/>
<polygon points="175.00,74.40 179.60,101.80 176.40,101.90 172.60,74.40" fill="#8a7b5f" />
<polygon points="116.50,73.80 119.20,73.80 115.60,102.40 112.80,102.40" fill="#85765a" />
<rect x="100.00" y="82.80" width="10.50" height="4.80" fill="url(#rg)" rx="2"/>
<line x1="108.00" y1="85.20" x2="117.00" y2="85.20" stroke="url(#rg)" stroke-width="2" stroke-linecap="butt"/>
<rect x="181.00" y="83.60" width="36.00" height="4.10" fill="url(#rg)" rx="1.8"/>
<line x1="177.00" y1="85.60" x2="183.00" y2="85.60" stroke="url(#rg)" stroke-width="2" stroke-linecap="butt"/>
<rect x="209.00" y="59.80" width="7.50" height="7.70" fill="url(#rg)"/>
<rect x="191.00" y="70.60" width="5.30" height="3.20" fill="#876a45"/>
<rect x="196.8" y="68.6" width="9.6" height="6.6" fill="#fff" stroke="url(#rg)" stroke-width="1.3"/>
<rect x="207.00" y="70.20" width="10.00" height="3.60" fill="url(#rg)" rx="1.5"/>
<rect x="210.60" y="88.00" width="5.90" height="6.40" fill="url(#rg)"/>
<rect x="200.00" y="98.80" width="4.80" height="15.00" fill="url(#rg)"/>
<rect x="204.80" y="103.80" width="12.20" height="3.70" fill="url(#rg)"/>
<rect x="211.00" y="107.00" width="5.50" height="9.00" fill="url(#rg)"/>
<path d="M111 122.5 L123 123.6 L123.8 126.8 L145.6 126.8 M111 130 L123 128.8 L123.8 126.8" fill="none" stroke="url(#rg)" stroke-width="2"/>
<circle cx="111.30" cy="122.20" r="1.40" fill="url(#rg)" />
<rect x="129.40" y="127.50" width="3.60" height="10.50" fill="url(#rg)"/>
<rect x="147.80" y="128.50" width="7.20" height="9.50" fill="url(#rg)"/>
<rect x="165.60" y="126.20" width="34.90" height="4.40" fill="url(#rg)" rx="1"/>
<polygon points="199.50,128.50 207.30,121.50 207.30,135.60" fill="url(#rg)" />
<line x1="207.00" y1="128.60" x2="217.00" y2="128.60" stroke="url(#rg)" stroke-width="2.4" stroke-linecap="butt"/>
<path d="M166.5 126.2 L166.5 123.6 L170.5 122.6" fill="none" stroke="url(#rg)" stroke-width="1"/>
<rect x="168.00" y="130.00" width="4.00" height="9.00" fill="url(#rg)" rx="1.2"/>
<rect x="192.00" y="130.00" width="3.40" height="9.00" fill="url(#rg)" rx="1.2"/>
<rect x="211.00" y="130.60" width="6.50" height="8.80" fill="url(#rg)"/>
<rect x="127.00" y="142.00" width="4.30" height="9.00" fill="url(#rg)"/>
<rect x="123.00" y="149.00" width="10.50" height="4.50" fill="url(#rg)" rx="2"/>
<polygon points="114.60,150.00 121.20,150.00 123.80,162.50 112.40,162.50" fill="#8d7450" />
<polygon points="135.80,150.00 142.40,150.00 145.00,162.50 133.60,162.50" fill="#8d7450" />
<rect x="114.65" y="152.00" width="1.20" height="1.40" fill="#eadbb4"/>
<rect x="114.90" y="154.60" width="1.20" height="1.40" fill="#eadbb4"/>
<rect x="115.15" y="157.20" width="1.20" height="1.40" fill="#eadbb4"/>
<rect x="115.40" y="159.80" width="1.20" height="1.40" fill="#eadbb4"/>
<rect x="117.25" y="152.00" width="1.20" height="1.40" fill="#eadbb4"/>
<rect x="117.50" y="154.60" width="1.20" height="1.40" fill="#eadbb4"/>
<rect x="117.75" y="157.20" width="1.20" height="1.40" fill="#eadbb4"/>
<rect x="118.00" y="159.80" width="1.20" height="1.40" fill="#eadbb4"/>
<rect x="119.85" y="152.00" width="1.20" height="1.40" fill="#eadbb4"/>
<rect x="120.10" y="154.60" width="1.20" height="1.40" fill="#eadbb4"/>
<rect x="120.35" y="157.20" width="1.20" height="1.40" fill="#eadbb4"/>
<rect x="120.60" y="159.80" width="1.20" height="1.40" fill="#eadbb4"/>
<rect x="135.85" y="152.00" width="1.20" height="1.40" fill="#eadbb4"/>
<rect x="136.10" y="154.60" width="1.20" height="1.40" fill="#eadbb4"/>
<rect x="136.35" y="157.20" width="1.20" height="1.40" fill="#eadbb4"/>
<rect x="136.60" y="159.80" width="1.20" height="1.40" fill="#eadbb4"/>
<rect x="138.45" y="152.00" width="1.20" height="1.40" fill="#eadbb4"/>
<rect x="138.70" y="154.60" width="1.20" height="1.40" fill="#eadbb4"/>
<rect x="138.95" y="157.20" width="1.20" height="1.40" fill="#eadbb4"/>
<rect x="139.20" y="159.80" width="1.20" height="1.40" fill="#eadbb4"/>
<rect x="141.05" y="152.00" width="1.20" height="1.40" fill="#eadbb4"/>
<rect x="141.30" y="154.60" width="1.20" height="1.40" fill="#eadbb4"/>
<rect x="141.55" y="157.20" width="1.20" height="1.40" fill="#eadbb4"/>
<rect x="141.80" y="159.80" width="1.20" height="1.40" fill="#eadbb4"/>
<rect x="101.00" y="154.40" width="8.00" height="3.60" fill="url(#rg)" rx="1.8"/>
<line x1="108.00" y1="156.20" x2="113.50" y2="156.20" stroke="url(#rg)" stroke-width="1.6" stroke-linecap="butt"/>
<rect x="147.00" y="154.80" width="10.00" height="4.00" fill="url(#rg)" rx="1.8"/>
<line x1="144.50" y1="156.70" x2="148.00" y2="156.70" stroke="url(#rg)" stroke-width="1.6" stroke-linecap="butt"/>
<rect x="152.50" y="142.00" width="4.50" height="16.80" fill="url(#rg)"/>
<rect x="115.60" y="166.00" width="4.40" height="6.00" fill="url(#rg)" rx="1.5"/>
<rect x="126.00" y="164.20" width="7.00" height="7.80" fill="url(#rg)" rx="1.5"/>
<rect x="138.00" y="166.00" width="4.00" height="6.00" fill="url(#rg)" rx="1.5"/>
<rect x="163.40" y="160.00" width="3.20" height="12.00" fill="url(#rg)"/>
<path d="M162 156.6 L167.8 156.6 L167.2 161 Q164.9 162.4 162.6 161 Z" fill="#a07a4c"/>
<rect x="177.00" y="160.00" width="3.20" height="12.00" fill="url(#rg)"/>
<path d="M175.6 156.6 L181.4 156.6 L180.79999999999998 161 Q178.5 162.4 176.2 161 Z" fill="#a07a4c"/>
<rect x="190.80" y="160.00" width="3.20" height="12.00" fill="url(#rg)"/>
<path d="M189.4 156.6 L195.20000000000002 156.6 L194.6 161 Q192.3 162.4 190.0 161 Z" fill="#a07a4c"/>
<rect x="204.40" y="160.00" width="3.20" height="12.00" fill="url(#rg)"/>
<path d="M203 156.6 L208.8 156.6 L208.2 161 Q205.9 162.4 203.6 161 Z" fill="#a07a4c"/>
<rect x="181.00" y="163.20" width="10.00" height="8.80" fill="url(#rg)" rx="2.5"/>
</g>
</svg>
</body></html>
